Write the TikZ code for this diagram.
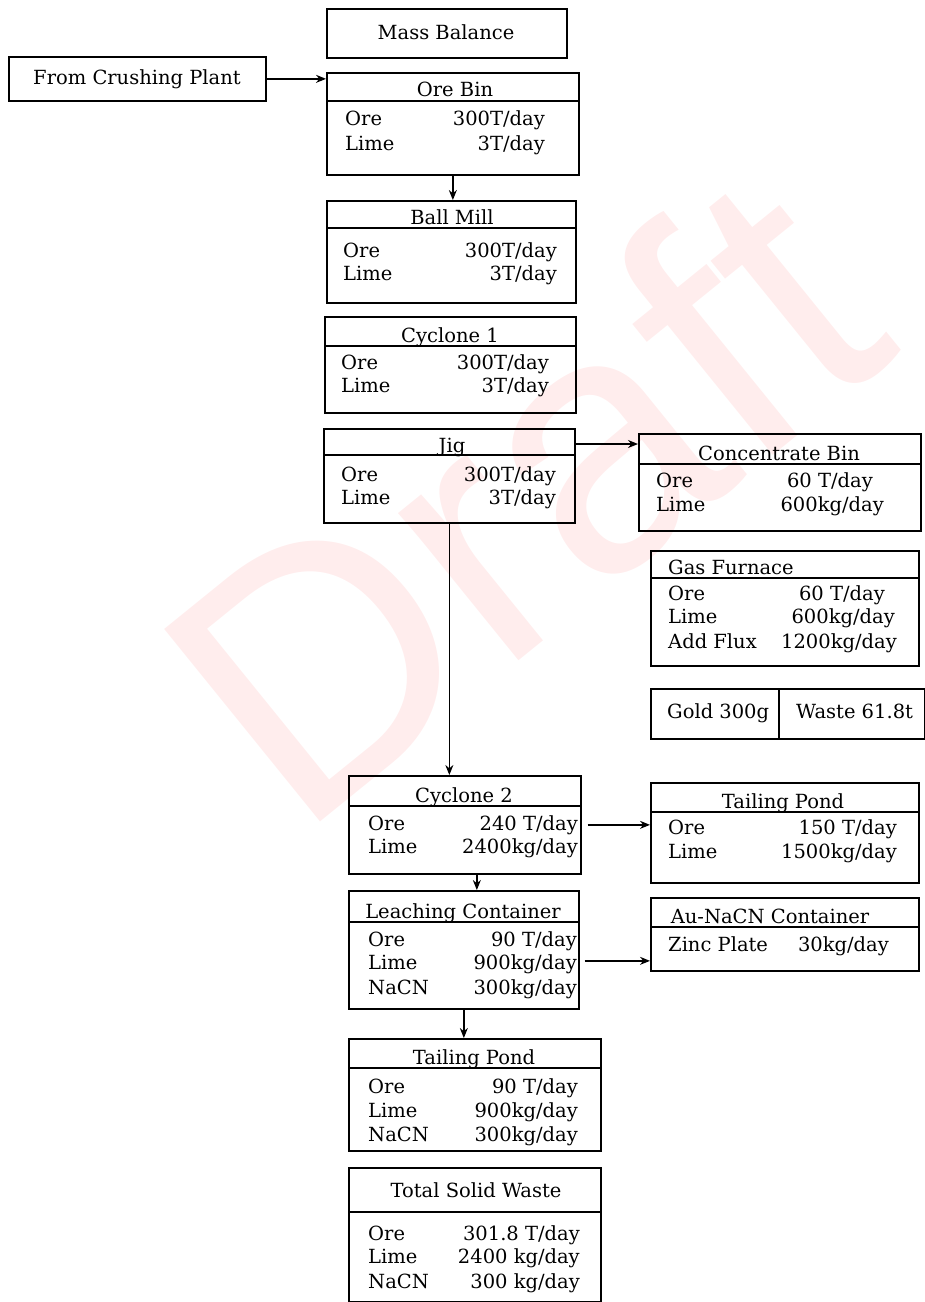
\documentclass[tikz,border=0pt]{standalone}
\usepackage{fontspec}
\setmainfont{DejaVu Serif}
\newfontfamily\wmfont{Liberation Sans}
\usetikzlibrary{arrows.meta}
\newcommand\txtsize{\fontsize{19.5}{23}\selectfont}
\tikzset{
  box/.style={draw, line width=1.7pt, inner sep=0pt, anchor=north west},
  hdr/.style={line width=1.4pt},
  ttl/.style={anchor=base, inner sep=0pt, font=\txtsize},
  ttll/.style={anchor=base west, inner sep=0pt, font=\txtsize},
  lbl/.style={anchor=base west, inner sep=0pt, font=\txtsize},
  val/.style={anchor=base east, inner sep=0pt, font=\txtsize},
  flow/.style={-{Stealth[length=10pt,width=8pt]}, line width=1.4pt}
}
% name, x1, y1, x2, y2
\newcommand\flowbox[5]{\node[box, minimum width={#4pt-#2pt}, minimum height={#5pt-#3pt}] (#1) at (#2,#3) {};}
\begin{document}
\begin{tikzpicture}[x=1pt,y=-1pt]
\useasboundingbox (0,0) rectangle (925,1302);
% watermark
\node[rotate=39, text=red!7, font=\wmfont\fontsize{360}{360}\selectfont, inner sep=0pt] (wm) at (520,495) {Draft};

% Mass Balance
\flowbox{mass}{326}{8}{566}{57}
\node[ttl] (massT) at (446,39) {Mass Balance};

% From Crushing Plant
\flowbox{crush}{8}{56}{265}{100}
\node[ttl] (crushT) at (137,84) {From Crushing Plant};

% Ore Bin
\flowbox{orebin}{326}{72}{578}{174}
\draw[hdr] (326,101) -- (578,101);
\node[ttl] (orebinT) at (455,96) {Ore Bin};
\node[lbl] (ob1) at (345,125) {Ore};
\node[val] (ob2) at (545,125) {300T/day};
\node[lbl] (ob3) at (345,150) {Lime};
\node[val] (ob4) at (545,150) {3T/day};

% Ball Mill
\flowbox{ball}{326}{200}{575}{302}
\draw[hdr] (326,228) -- (575,228);
\node[ttl] (ballT) at (452,224) {Ball Mill};
\node[lbl] (bm1) at (343,257) {Ore};
\node[val] (bm2) at (557,257) {300T/day};
\node[lbl] (bm3) at (343,280) {Lime};
\node[val] (bm4) at (557,280) {3T/day};

% Cyclone 1
\flowbox{cyc1}{324}{316}{575}{412}
\draw[hdr] (324,346) -- (575,346);
\node[ttl] (cyc1T) at (450,342) {Cyclone 1};
\node[lbl] (c11) at (341,369) {Ore};
\node[val] (c12) at (549,369) {300T/day};
\node[lbl] (c13) at (341,392) {Lime};
\node[val] (c14) at (549,392) {3T/day};

% Jig
\flowbox{jig}{323}{428}{574}{522}
\draw[hdr] (323,455) -- (574,455);
\node[ttl] (jigT) at (452,452) {Jig};
\node[lbl] (j1) at (341,481) {Ore};
\node[val] (j2) at (556,481) {300T/day};
\node[lbl] (j3) at (341,504) {Lime};
\node[val] (j4) at (556,504) {3T/day};

% Concentrate Bin
\flowbox{conc}{638}{433}{920}{530}
\draw[hdr] (638,464) -- (920,464);
\node[ttl] (concT) at (779,460) {Concentrate Bin};
\node[lbl] (cb1) at (656,487) {Ore};
\node[val] (cb2) at (873,487) {60 T/day};
\node[lbl] (cb3) at (656,511) {Lime};
\node[val] (cb4) at (884,511) {600kg/day};

% Gas Furnace
\flowbox{gas}{650}{550}{918}{665}
\draw[hdr] (650,578) -- (918,578);
\node[ttll] (gasT) at (668,574) {Gas Furnace};
\node[lbl] (g1) at (668,600) {Ore};
\node[val] (g2) at (885,600) {60 T/day};
\node[lbl] (g3) at (668,623) {Lime};
\node[val] (g4) at (895,623) {600kg/day};
\node[lbl] (g5) at (668,648) {Add Flux};
\node[val] (g6) at (897,648) {1200kg/day};

% Gold / Waste
\flowbox{gold}{650}{688}{778}{738}
\flowbox{waste}{778}{688}{924}{738}
\node[ttll] (goldT) at (667,718) {Gold 300g};
\node[ttll] (wasteT) at (796,718) {Waste 61.8t};

% Cyclone 2
\flowbox{cyc2}{348}{775}{580}{873}
\draw[hdr] (348,806) -- (580,806);
\node[ttl] (cyc2T) at (464,802) {Cyclone 2};
\node[lbl] (c21) at (368,830) {Ore};
\node[val] (c22) at (578,830) {240 T/day};
\node[lbl] (c23) at (368,853) {Lime};
\node[val] (c24) at (578,853) {2400kg/day};

% Tailing Pond (right)
\flowbox{tail1}{650}{782}{918}{882}
\draw[hdr] (650,812) -- (918,812);
\node[ttl] (tail1T) at (783,808) {Tailing Pond};
\node[lbl] (t11) at (668,834) {Ore};
\node[val] (t12) at (897,834) {150 T/day};
\node[lbl] (t13) at (668,858) {Lime};
\node[val] (t14) at (897,858) {1500kg/day};

% Leaching Container
\flowbox{leach}{348}{890}{578}{1008}
\draw[hdr] (348,922) -- (578,922);
\node[ttl] (leachT) at (463,918) {Leaching Container};
\node[lbl] (l1) at (368,946) {Ore};
\node[val] (l2) at (577,946) {90 T/day};
\node[lbl] (l3) at (368,969) {Lime};
\node[val] (l4) at (577,969) {900kg/day};
\node[lbl] (l5) at (368,994) {NaCN};
\node[val] (l6) at (577,994) {300kg/day};

% Au-NaCN Container
\flowbox{au}{650}{897}{918}{970}
\draw[hdr] (650,927) -- (918,927);
\node[ttl] (auT) at (770,923) {Au-NaCN Container};
\node[lbl] (a1) at (668,951) {Zinc Plate};
\node[val] (a2) at (889,951) {30kg/day};

% Tailing Pond (bottom)
\flowbox{tail2}{348}{1038}{600}{1150}
\draw[hdr] (348,1068) -- (600,1068);
\node[ttl] (tail2T) at (474,1064) {Tailing Pond};
\node[lbl] (t21) at (368,1093) {Ore};
\node[val] (t22) at (578,1093) {90 T/day};
\node[lbl] (t23) at (368,1117) {Lime};
\node[val] (t24) at (578,1117) {900kg/day};
\node[lbl] (t25) at (368,1141) {NaCN};
\node[val] (t26) at (578,1141) {300kg/day};

% Total Solid Waste
\flowbox{total}{348}{1167}{600}{1301}
\draw[hdr] (348,1212) -- (600,1212);
\node[ttl] (totalT) at (476,1197) {Total Solid Waste};
\node[lbl] (s1) at (368,1240) {Ore};
\node[val] (s2) at (580,1240) {301.8 T/day};
\node[lbl] (s3) at (368,1263) {Lime};
\node[val] (s4) at (580,1263) {2400 kg/day};
\node[lbl] (s5) at (368,1288) {NaCN};
\node[val] (s6) at (580,1288) {300 kg/day};

% connectors
\draw[flow] (crush.east) -- (crush.east -| orebin.west);
\draw[flow] (orebin.south) -- (orebin.south |- ball.north);
\draw[flow] ([yshift=-16pt]jig.north east) -- ([yshift=-16pt]jig.north east -| conc.west);
\draw[flow] (jig.south) -- (jig.south |- cyc2.north);
\draw[flow] ([xshift=6pt]cyc2.east) -- (cyc2.east -| tail1.west);
\draw[flow] ([xshift=12pt]cyc2.south) -- ([xshift=12pt]cyc2.south |- leach.north);
\draw[flow] ([xshift=5pt,yshift=-11pt]leach.east) -- ([yshift=-11pt]leach.east -| au.west);
\draw[flow] (leach.south) -- (leach.south |- tail2.north);
\end{tikzpicture}
\end{document}
